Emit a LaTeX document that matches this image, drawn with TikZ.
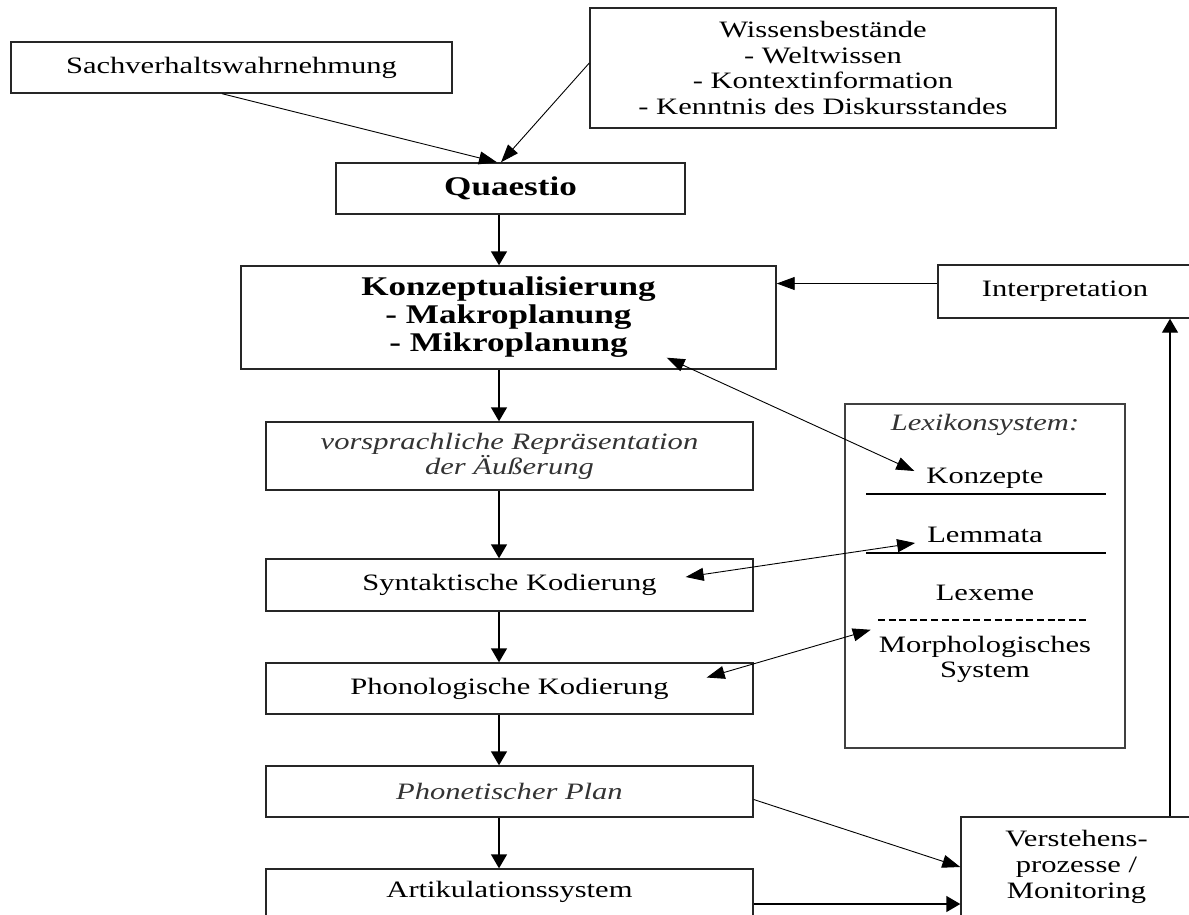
\documentclass[tikz,border=0pt]{standalone}
\usepackage{fontspec}
\setmainfont{Liberation Serif}[FakeStretch=1.3]
\usetikzlibrary{arrows.meta}

\tikzset{
stage/.style={draw=black!85, line width=1.4pt, align=center, inner sep=0pt,
font=\fontsize{23.5}{25.7}\selectfont},
bigstage/.style={stage, font=\fontsize{27}{28}\selectfont\bfseries},
slanted/.style={stage, text=black!80, font=\fontsize{23.5}{25.2}\selectfont\itshape},
lexitem/.style={align=center, inner sep=0pt, font=\fontsize{23.5}{25.7}\selectfont},
flow/.style={-{Triangle[length=14pt,width=16pt]}, line width=1.4pt},
link/.style={-{Triangle[length=18pt,width=13pt]}, line width=0.9pt},
twoway/.style={{Triangle[length=18pt,width=13pt]}-{Triangle[length=18pt,width=13pt]}, line width=0.9pt},
lexrule/.style={line width=2pt}
}

\begin{document}
\begin{tikzpicture}[x=1pt,y=-1pt]
\useasboundingbox (0,0) rectangle (1189,914);
% draws upper boxes
\node[stage, minimum width=441pt, minimum height=51pt] (sach) at (231.5,67.5) {Sachverhaltswahrnehmung};
\node[stage, minimum width=466pt, minimum height=120pt] (wissen) at (823,68) {Wissensbestände\\- Weltwissen\\- Kontextinformation\\- Kenntnis des Diskursstandes};
\node[bigstage, minimum width=349pt, minimum height=51pt] (quaestio) at (510.5,188.5) {Quaestio};
\node[bigstage, minimum width=535pt, minimum height=103pt] (konzept) at (508.5,317.5) {Konzeptualisierung\\- Makroplanung\\- Mikroplanung};
\node[stage, minimum width=254pt, minimum height=53pt] (interp) at (1065,291.5) {Interpretation};
% draws production chain
\node[slanted, minimum width=487pt, minimum height=68pt] (vorspr) at (509.5,456) {vorsprachliche Repräsentation\\der Äußerung};
\node[stage, minimum width=487pt, minimum height=52pt] (syntax) at (509.5,585) {Syntaktische Kodierung};
\node[stage, minimum width=487pt, minimum height=51pt] (phonol) at (509.5,688.5) {Phonologische Kodierung};
\node[slanted, minimum width=487pt, minimum height=51pt] (phonet) at (509.5,791.5) {Phonetischer Plan};
\node[stage, minimum width=487pt, minimum height=51pt] (artik) at (509.5,894.5) {\raisebox{10pt}{Artikulationssystem}};
\node[stage, minimum width=231pt, minimum height=100pt] (verst) at (1076.5,867) {Verstehens-\\prozesse /\\Monitoring};
% draws lexicon
\node[draw=black!75, line width=1.4pt, minimum width=280pt, minimum height=344pt] (lexikon) at (985,576) {};
\node[lexitem, font=\fontsize{23.5}{25.7}\selectfont\itshape, text=black!80] (lexsys) at (985,425) {Lexikonsystem:};
\node[lexitem] (konzepte) at (985,478) {Konzepte};
\node[lexitem] (lemmata) at (985,535) {Lemmata};
\node[lexitem] (lexeme) at (985,593) {Lexeme};
\node[lexitem] (morph) at (985,659.5) {Morphologisches\\System};
\draw[lexrule] (866,494) -- (1106,494);
\draw[lexrule] (866,553) -- (1106,553);
\draw[lexrule, dash pattern=on 7pt off 3.6pt] (878,620) -- (1090,620);
% draws main flow
\coordinate (axis) at (499,0);
\draw[flow] (quaestio.south -| axis) -- (konzept.north -| axis);
\draw[flow] (konzept.south -| axis) -- (vorspr.north -| axis);
\draw[flow] (vorspr.south -| axis) -- (syntax.north -| axis);
\draw[flow] (syntax.south -| axis) -- (phonol.north -| axis);
\draw[flow] (phonol.south -| axis) -- (phonet.north -| axis);
\draw[flow] (phonet.south -| axis) -- (artik.north -| axis);
% draws inputs
\draw[link] ([xshift=-9.5pt]sach.south) -- ([xshift=-13.5pt]quaestio.north);
\draw[link] ([yshift=5pt]wissen.west) -- ([xshift=-9.5pt]quaestio.north);
% draws lexicon access
\draw[twoway] ([xshift=-110pt,yshift=12pt]konzept.south east) -- ([xshift=-12pt,yshift=7pt]konzepte.west);
\draw[twoway] ([xshift=-68pt,yshift=8pt]syntax.east) -- ([xshift=-12pt,yshift=-8pt]lemmata.west);
\draw[twoway] ([xshift=-47pt,yshift=11pt]phonol.east) -- ([xshift=-8pt,yshift=6pt]morph.north west);
% draws monitoring loop
\draw[link] ([yshift=-8pt]phonet.east) -- (verst.west);
\coordinate (artout) at ([yshift=-9.5pt]artik.east);
\draw[flow] (artout) -- (artout -| verst.west);
\coordinate (back) at (1170,0);
\draw[flow] (verst.north -| back) -- (interp.south -| back);
\coordinate (interpin) at ([yshift=8pt]interp.west);
\draw[link] (interpin) -- (interpin -| konzept.east);
\end{tikzpicture}
\end{document}
